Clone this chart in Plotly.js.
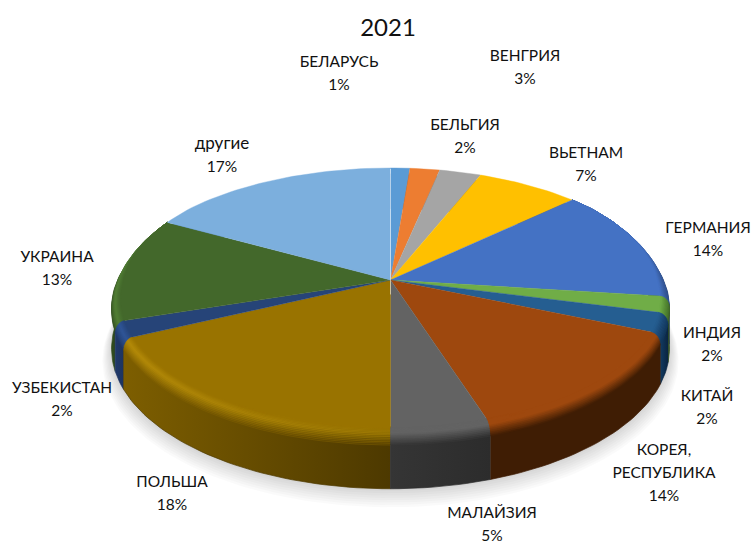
<!DOCTYPE html>
<html><head><meta charset="utf-8">
<script src="https://cdn.plot.ly/plotly-3.0.1.min.js"></script>
<style>html,body{margin:0;padding:0;background:#fff}</style>
</head><body><div id="chart" style="width:754px;height:543px"></div>
<script>
const titleText = "2021";
const categories = ["БЕЛАРУСЬ","БЕЛЬГИЯ","ВЕНГРИЯ","ВЬЕТНАМ","ГЕРМАНИЯ","ИНДИЯ","КИТАЙ","КОРЕЯ,\nРЕСПУБЛИКА","МАЛАЙЗИЯ","ПОЛЬША","УЗБЕКИСТАН","УКРАИНА","другие"];
const shares = [1.3,2.0,2.8,6.9,14.0,2.0,2.4,13.6,5.0,18.0,2.0,13.0,17.0];
const percentLabels = ["1%","2%","3%","7%","14%","2%","2%","14%","5%","18%","2%","13%","17%"];
const topColors = ["#5B9BD5","#ED7D31","#A5A5A5","#FFC000","#4472C4","#70AD47","#255E91","#9E480E","#636363","#997300","#264478","#43682B","#7CAFDD"];
const wallLeft  = ["#2f5f8f","#8f4a1c","#666666","#997300","#2a4a85","#3c5e26","#123a60","#3f1d04","#353535","#7d5e00","#20396a","#2f4a1e","#4c7aa6"];
const wallRight = ["#2f5f8f","#8f4a1c","#666666","#997300","#1e3560","#2c4a1a","#0a2440","#3f1d04","#2c2c2c","#4d3900","#1d3460","#324e20","#4c7aa6"];
const hlLeft    = [null,null,null,null,"#3c62a8","#5f9a3a","#1f5080","#9E480E","#636363","#b48a08","#2f5597","#517e34",null];
const hlRight   = [null,null,null,null,"#2f4f8a","#4a7a2e","#174068","#9E480E","#636363","#8a6a00","#2f5597","#4f7a32",null];
const labelX = [339,465,525,586,708,712,707,664,492,172,62,57,222];
const labelY = [63.5,126.5,57.5,154.5,229.5,334.5,397.5,451.5,514.5,483.5,389.5,258.5,145];

const cx=390.5, cy=280, a=275.6, b=129.4, k=0.155, wallH=47, lineGap=23;
function proj(frac,r,z){
  const th=2*Math.PI*frac, c=Math.cos(th);
  // the rounded rim is only seen on the near half of the disc
  const rr=r<1 ? r+(1-r)*Math.min(1,Math.max(0,c*1.6)) : r;
  const X=rr*Math.sin(th), Y=rr*c, w=1+k*Y;
  return [cx+a*X/w, cy-b*Y/w+z/w];
}
function arc(f0,f1,r,z){
  const n=Math.max(2,Math.ceil((f1-f0)*240)), xs=[], ys=[];
  for(let i=0;i<=n;i++){const p=proj(f0+(f1-f0)*i/n,r,z);xs.push(p[0]);ys.push(p[1]);}
  return [xs,ys];
}
function hex(c){return [1,3,5].map(i=>parseInt(c.substr(i,2),16));}
function mix(c1,c2,t){const A=hex(c1),B=hex(c2);
  return "rgb("+A.map((v,i)=>Math.round(v+(B[i]-v)*t)).join(",")+")";}
function toHex(c){const m=c.match(/\d+/g).map(Number);return "#"+m.map(v=>v.toString(16).padStart(2,"0")).join("");}
function poly(A,B,extra){
  return Object.assign({type:"scatter",mode:"lines",hoverinfo:"skip",showlegend:false,
    x:A[0].concat(B[0].slice().reverse()),y:A[1].concat(B[1].slice().reverse()),
    fill:"toself",line:{width:0}},extra);
}
const traces=[];
// soft shadow
for(let i=8;i>=1;i--){
  const A=arc(0.15,0.85,1+i*0.004,wallH+i*1.3);
  traces.push({type:"scatter",mode:"lines",hoverinfo:"skip",showlegend:false,x:A[0],y:A[1],
    fill:"toself",fillcolor:"rgba(0,0,0,0.02)",line:{width:0}});
}
const total=shares.reduce((s,v)=>s+v,0);
const starts=[];let acc=0;
shares.forEach(v=>{starts.push(acc/total);acc+=v;});
const zBevel=10, rIn=0.968, nStrip=12;
function prof(t){const q=t*Math.PI/2;return [rIn+(1-rIn)*Math.sin(q), zBevel*(1-Math.cos(q))];}
// walls
const order=shares.map((_,i)=>i).sort((p,q)=>{
  const mid=i=>Math.cos(2*Math.PI*(starts[i]+shares[i]/total/2));return mid(q)-mid(p);});
order.forEach(i=>{
  const f0=starts[i],f1=f0+shares[i]/total;
  traces.push(poly(arc(f0,f1,1,zBevel-3),arc(f0,f1,1,wallH),
    {fillgradient:{type:"horizontal",colorscale:[[0,wallLeft[i]],[1,wallRight[i]]]},
     line:{width:0.7,color:wallRight[i]}}));
});
// rounded rim: each band reaches back to the inner edge, later bands paint over it
const inner=prof(0);
for(let s=nStrip-1;s>=0;s--){
  const t1=(s+1)/nStrip,tm=(s+0.5)/nStrip;
  order.forEach(i=>{
    const f0=starts[i],f1=f0+shares[i]/total;
    const mid=Math.cos(2*Math.PI*(f0+f1)/2);
    if(mid>0.75) return;
    const p1=prof(t1);
    const hL=hlLeft[i]||toHex(mix(topColors[i],wallLeft[i],0.35));
    const hR=hlRight[i]||toHex(mix(topColors[i],wallRight[i],0.35));
    const col=(h,w)=>tm<0.4?mix(topColors[i],h,tm/0.4):mix(h,w,(tm-0.4)/0.6);
    traces.push(poly(arc(f0,f1,inner[0],inner[1]),arc(f0,f1,p1[0],p1[1]),
      {fillgradient:{type:"horizontal",colorscale:[[0,col(hL,wallLeft[i])],[1,col(hR,wallRight[i])]]},
       line:{width:0.5,color:col(hL,wallLeft[i])}}));
  });
}
// top faces
shares.forEach((v,i)=>{
  const f0=starts[i],f1=f0+v/total;
  const A=arc(f0,f1,rIn,0);
  traces.push({type:"scatter",mode:"lines",hoverinfo:"skip",showlegend:false,
    x:[cx].concat(A[0]),y:[cy].concat(A[1]),fill:"toself",fillcolor:topColors[i],
    line:{width:0.4,color:topColors[i]}});
});
// seam at the first slice start
const seamTop=proj(0,1,0), seamEnd=proj(0.5,0.11,0);
traces.push({type:"scatter",mode:"lines",hoverinfo:"skip",showlegend:false,
  x:[seamTop[0],cx,seamEnd[0]],y:[seamTop[1]+1,cy,seamEnd[1]],
  line:{width:0.8,color:"rgba(255,255,255,0.65)"}});
// labels
const tx=[],ty=[],tt=[];
categories.forEach((c,i)=>{
  const lines=c.split("\n").concat(percentLabels[i]);
  lines.forEach((ln,j)=>{tx.push(labelX[i]);ty.push(labelY[i]+j*lineGap);tt.push(ln);});
});
traces.push({type:"scatter",mode:"text",x:tx,y:ty,text:tt,textposition:"middle center",
  hoverinfo:"skip",showlegend:false,cliponaxis:false,
  textfont:{family:"Lato, 'Open Sans', sans-serif",size:tt.map(s=>s==="другие"?17:15.5),color:"#111111"}});
const layout={width:754,height:543,margin:{l:0,r:0,t:0,b:0},paper_bgcolor:"#fff",plot_bgcolor:"#fff",
  showlegend:false,
  title:{text:titleText,x:388/754,xanchor:"center",y:1-28/543,yanchor:"middle",
    font:{family:"Lato, 'Open Sans', sans-serif",size:24,color:"#111111"}},
  xaxis:{range:[0,754],visible:false,fixedrange:true},
  yaxis:{range:[543,0],visible:false,fixedrange:true}};
Plotly.newPlot("chart",traces,layout,{displayModeBar:false,staticPlot:true});
</script></body></html>
